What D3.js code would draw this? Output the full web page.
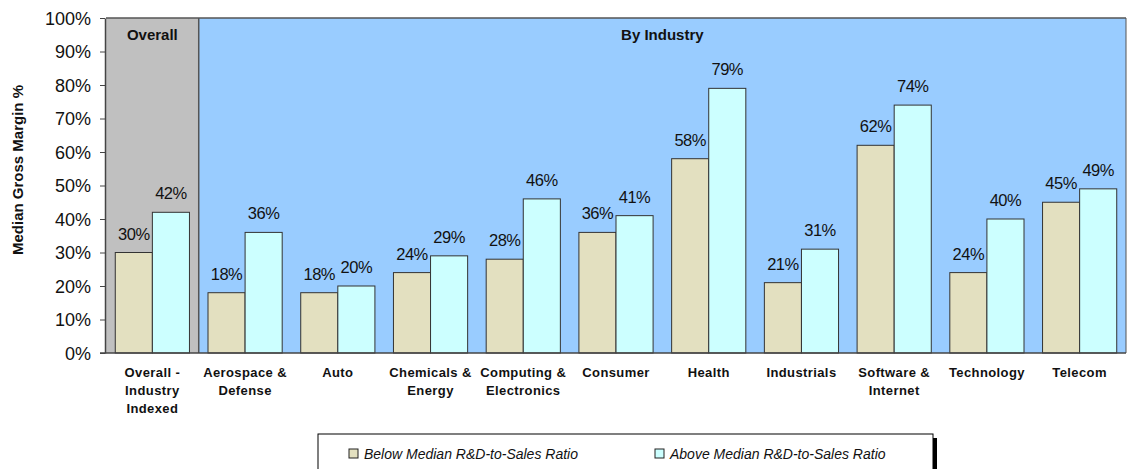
<!DOCTYPE html>
<html><head><meta charset="utf-8">
<script src="https://cdn.jsdelivr.net/npm/d3@7"></script>
<style>body{margin:0;background:#fff}svg{display:block;font-family:"Liberation Sans",Arial,sans-serif}</style>
</head><body><svg id="c" width="1128" height="469"></svg>
<script>
const categories = [["Overall -","Industry","Indexed"],["Aerospace &","Defense"],["Auto"],["Chemicals &","Energy"],["Computing &","Electronics"],["Consumer"],["Health"],["Industrials"],["Software &","Internet"],["Technology"],["Telecom"]];
const belowMedian = [30,18,18,24,28,36,58,21,62,24,45];
const aboveMedian = [42,36,20,29,46,41,79,31,74,40,49];
const seriesNames = ["Below Median R&D-to-Sales Ratio","Above Median R&D-to-Sales Ratio"];
const yTicks = [0,10,20,30,40,50,60,70,80,90,100];

const svg = d3.select("#c");
const L=106, R=1126, T=18, B=353;
const x = d3.scaleBand().domain(d3.range(categories.length)).range([L,R]).paddingInner(0.2).paddingOuter(0.1);
const x0 = d3.scaleBand().domain(d3.range(categories.length)).range([L,R]).padding(0);
const y = d3.scaleLinear().domain([0,100]).range([B,T]);
const colors = ["#e3e0c0","#ccffff"];

// backgrounds
svg.append("rect").attr("x",L).attr("y",T).attr("width",x0(1)-L).attr("height",B-T).attr("fill","#c0c0c0");
svg.append("rect").attr("x",x0(1)).attr("y",T).attr("width",R-x0(1)).attr("height",B-T).attr("fill","#99ccff");
svg.append("line").attr("x1",L).attr("x2",R).attr("y1",T).attr("y2",T).attr("stroke","#555").attr("stroke-width",1.5);
svg.append("line").attr("x1",x0(1)).attr("x2",x0(1)).attr("y1",T).attr("y2",B).attr("stroke","#555").attr("stroke-width",1.5);
svg.append("line").attr("x1",R).attr("x2",R).attr("y1",T).attr("y2",B).attr("stroke","#555").attr("stroke-width",1);

svg.append("text").attr("x",(L+x0(1))/2).attr("y",40).attr("text-anchor","middle").attr("font-weight","bold").attr("font-size",15).attr("fill","#111").text("Overall");
svg.append("text").attr("x",(x0(1)+R)/2).attr("y",40).attr("text-anchor","middle").attr("font-weight","bold").attr("font-size",15).attr("fill","#111").text("By Industry");

const bw = x.bandwidth()/2;
[belowMedian,aboveMedian].forEach((vals,s)=>{
  const g = svg.append("g");
  g.selectAll("rect").data(vals).join("rect")
    .attr("x",(d,i)=>x(i)+s*bw).attr("y",d=>y(d)).attr("width",bw).attr("height",d=>B-y(d))
    .attr("fill",colors[s]).attr("stroke","#333").attr("stroke-width",1);
  g.selectAll("text").data(vals).join("text")
    .attr("x",(d,i)=>x(i)+s*bw+bw/2).attr("y",d=>y(d)-13)
    .attr("text-anchor","middle").attr("font-size",16.5).attr("fill","#111").attr("letter-spacing","-0.5")
    .text(d=>d+"%");
});

// y axis
const ya = svg.append("g").attr("transform",`translate(${L-1},0)`)
  .call(d3.axisLeft(y).tickValues(yTicks).tickFormat(d=>d+"%").tickSize(5).tickSizeOuter(0));
ya.select(".domain").attr("stroke","#444").attr("stroke-width",1.5);
ya.selectAll(".tick line").attr("stroke","#444");
ya.selectAll(".tick text").attr("font-size",18).attr("fill","#111").attr("font-family","Liberation Sans, Arial, sans-serif").attr("dy","0.35em").attr("x",-14);

// x axis line
svg.append("line").attr("x1",L-6).attr("x2",R).attr("y1",B).attr("y2",B).attr("stroke","#444").attr("stroke-width",1.5);

// category labels
const cl = svg.append("g");
categories.forEach((lines,i)=>{
  const t = cl.append("text").attr("x",x0(i)+x0.bandwidth()/2).attr("y",377)
    .attr("text-anchor","middle").attr("font-weight","bold").attr("font-size",13).attr("fill","#111").attr("letter-spacing","0.4");
  lines.forEach((ln,k)=>t.append("tspan").attr("x",x0(i)+x0.bandwidth()/2).attr("dy",k?18:0).text(ln));
});

// y title
svg.append("text").attr("transform","translate(23,170) rotate(-90)").attr("text-anchor","middle")
  .attr("font-weight","bold").attr("font-size",15).attr("fill","#111").text("Median Gross Margin %");

// legend
svg.append("rect").attr("x",322).attr("y",438).attr("width",615).attr("height",40).attr("fill","#000");
svg.append("rect").attr("x",318).attr("y",434).attr("width",615).attr("height",40).attr("fill","#fff").attr("stroke","#000").attr("stroke-width",1);
const lx=[349,655];
seriesNames.forEach((n,s)=>{
  svg.append("rect").attr("x",lx[s]).attr("y",449).attr("width",9).attr("height",9).attr("fill",colors[s]).attr("stroke","#222");
  svg.append("text").attr("x",lx[s]+15).attr("y",459).attr("font-style","italic").attr("font-size",14).attr("fill","#111").text(n);
});
</script></body></html>
